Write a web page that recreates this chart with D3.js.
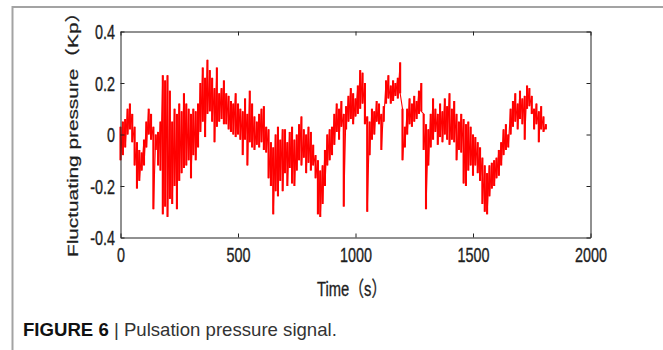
<!DOCTYPE html>
<html><head><meta charset="utf-8">
<script src="https://cdn.jsdelivr.net/npm/d3@7/dist/d3.min.js"></script>
<style>body{margin:0;background:#fff}svg{display:block}</style>
</head><body>
<svg id="c" width="663" height="350"></svg>
<script>
// sample times (s), 10-s bins
const sampleTimes = [0,10,20,30,40,50,60,70,80,90,100,110,120,130,140,150,160,170,180,190,200,210,220,230,240,250,260,270,280,290,300,310,320,330,340,350,360,370,380,390,400,410,420,430,440,450,460,470,480,490,500,510,520,530,540,550,560,570,580,590,600,610,620,630,640,650,660,670,680,690,700,710,720,730,740,750,760,770,780,790,800,810,820,830,840,850,860,870,880,890,900,910,920,930,940,950,960,970,980,990,1000,1010,1020,1030,1040,1050,1060,1070,1080,1090,1100,1110,1120,1130,1140,1150,1160,1170,1180,1190,1200,1210,1220,1230,1240,1250,1260,1270,1280,1290,1300,1310,1320,1330,1340,1350,1360,1370,1380,1390,1400,1410,1420,1430,1440,1450,1460,1470,1480,1490,1500,1510,1520,1530,1540,1550,1560,1570,1580,1590,1600,1610,1620,1630,1640,1650,1660,1670,1680,1690,1700,1710,1720,1730,1740,1750,1760,1770,1780,1790,1800,1810];
// upper envelope of fluctuating pressure in each bin (Kp)
const pressureHigh = [0.03,0.05,0.06,0.10,0.12,0.08,0.03,-0.03,-0.06,-0.07,-0.02,0.05,0.10,0.08,0.03,0.00,0.01,0.05,0.23,0.21,0.23,0.17,0.05,0.10,0.08,0.12,0.09,0.16,0.12,0.10,0.08,0.10,0.09,0.12,0.20,0.26,0.22,0.29,0.25,0.22,0.18,0.26,0.16,0.18,0.21,0.16,0.15,0.13,0.12,0.16,0.12,0.10,0.09,0.14,0.08,0.17,0.12,0.07,0.05,0.08,0.10,0.11,0.03,0.02,-0.03,-0.05,0.00,0.03,-0.02,0.02,0.02,-0.03,0.01,0.03,-0.02,0.00,0.04,0.07,0.02,0.00,0.03,0.01,-0.04,-0.08,-0.10,-0.14,-0.12,-0.06,0.00,0.02,0.03,0.08,0.12,0.10,0.13,0.08,0.11,0.15,0.18,0.16,0.14,0.19,0.25,0.24,0.20,0.07,0.05,0.10,0.09,0.13,0.12,0.08,0.11,0.21,0.23,0.19,0.21,0.20,0.22,0.28,0.10,0.03,0.10,0.14,0.12,0.15,0.13,0.17,0.20,0.08,0.04,0.02,0.08,0.14,0.10,0.08,0.12,0.09,0.14,0.11,0.16,0.10,0.13,0.08,0.05,0.08,0.06,0.04,0.05,0.03,0.00,-0.01,-0.03,-0.05,-0.09,-0.12,-0.15,-0.12,-0.11,-0.10,-0.09,-0.06,-0.03,0.02,0.04,0.00,0.10,0.13,0.16,0.12,0.17,0.14,0.15,0.19,0.18,0.15,0.10,0.12,0.09,0.11,0.07,0.04];
// lower envelope of fluctuating pressure in each bin (Kp)
const pressureLow = [-0.10,-0.08,-0.05,0.00,0.02,-0.03,-0.12,-0.21,-0.18,-0.14,-0.12,-0.05,0.00,-0.02,-0.29,-0.06,-0.12,-0.14,-0.31,-0.28,-0.32,-0.25,-0.27,-0.20,-0.29,-0.18,-0.15,-0.13,-0.12,-0.10,-0.17,-0.08,-0.10,-0.05,0.01,0.05,-0.01,0.08,0.09,0.05,-0.03,0.03,0.05,0.06,0.04,0.04,0.02,0.01,0.00,-0.01,0.00,-0.02,-0.08,-0.02,-0.12,-0.03,-0.05,-0.06,-0.04,-0.05,-0.03,-0.06,-0.07,-0.17,-0.20,-0.31,-0.22,-0.24,-0.18,-0.22,-0.15,-0.20,-0.13,-0.19,-0.20,-0.14,-0.10,-0.12,-0.09,-0.15,-0.11,-0.14,-0.12,-0.17,-0.31,-0.32,-0.27,-0.20,-0.12,-0.10,-0.08,-0.04,0.01,-0.02,0.03,-0.28,0.02,0.05,0.06,0.04,0.07,0.08,0.10,0.12,0.04,-0.30,-0.08,-0.02,0.00,0.05,0.04,-0.06,0.05,0.12,0.14,0.12,0.13,0.15,0.14,0.16,-0.10,-0.05,0.00,0.04,0.03,0.05,0.06,0.08,0.09,-0.06,-0.29,-0.12,-0.05,-0.02,0.01,-0.04,-0.01,-0.03,0.00,-0.02,-0.04,-0.02,-0.03,-0.10,-0.06,-0.07,-0.19,-0.20,-0.14,-0.12,-0.16,-0.12,-0.15,-0.18,-0.27,-0.30,-0.31,-0.24,-0.21,-0.20,-0.17,-0.16,-0.12,-0.08,-0.06,-0.05,0.00,0.03,0.05,0.02,0.06,0.04,-0.02,0.10,0.11,0.08,0.02,0.04,-0.03,0.02,0.01,0.02];
const xTickValues = [0,500,1000,1500,2000];
const xTickLabels = ["0","500","1000","1500","2000"];
const yTickValues = [-0.4,-0.2,0,0.2,0.4];
const yTickLabels = ["-0.4","-0.2","0","0.2","0.4"];
const xTitle = "Time（s）";
const yTitle = "Fluctuating pressure（Kp）";

const svg = d3.select("#c");
const SX = 0.72; // horizontal squeeze of the figure text
const FS = 20;
const fontFam = "'Liberation Sans', Arial, 'Noto Sans CJK SC', sans-serif";
const txtColor = "#1e1e1e";

// card border
svg.append("line").attr("x1",12.5).attr("y1",7).attr("x2",663).attr("y2",7).attr("stroke","#a3a3a3").attr("stroke-width",2);
svg.append("line").attr("x1",12.5).attr("y1",6).attr("x2",12.5).attr("y2",350).attr("stroke","#a3a3a3").attr("stroke-width",2);

const x = d3.scaleLinear().domain([0,2000]).range([120.5,590.5]);
const y = d3.scaleLinear().domain([-0.4,0.4]).range([237.5,31.5]);

const bins = sampleTimes.map((t,i)=>({t, hi: pressureHigh[i], lo: pressureLow[i]}));
// vertical strokes spanning each bin's envelope
svg.append("g").selectAll("line").data(bins).join("line")
  .attr("x1",d=>x(d.t)).attr("x2",d=>x(d.t))
  .attr("y1",d=>y(d.hi)).attr("y2",d=>y(d.lo))
  .attr("stroke","#ff0000").attr("stroke-width",2.1);
// zig-zag trace through the bins
const pts = [];
bins.forEach(b=>{ pts.push([b.t,b.hi]); pts.push([b.t,b.lo]); });
const line = d3.line().x(d=>x(d[0])).y(d=>y(d[1]));
svg.append("path").datum(pts).attr("d",line).attr("fill","none").attr("stroke","#ff0000").attr("stroke-width",1.1);

const axColor = "#222";
function styleAxis(g){ g.selectAll("path,line").attr("stroke",axColor).attr("stroke-width",1); }

const gB = svg.append("g").attr("transform","translate(0,237.5)")
  .call(d3.axisBottom(x).tickValues(xTickValues).tickSizeInner(-4).tickSizeOuter(0)
    .tickFormat((d,i)=>xTickLabels[i]));
const gT = svg.append("g").attr("transform","translate(0,31.5)")
  .call(d3.axisTop(x).tickValues(xTickValues).tickSizeInner(-4).tickSizeOuter(0).tickFormat(""));
const gL = svg.append("g").attr("transform","translate(120.5,0)")
  .call(d3.axisLeft(y).tickValues(yTickValues).tickSizeInner(-4).tickSizeOuter(0)
    .tickFormat((d,i)=>yTickLabels[i]));
const gR = svg.append("g").attr("transform","translate(590.5,0)")
  .call(d3.axisRight(y).tickValues(yTickValues).tickSizeInner(-4).tickSizeOuter(0).tickFormat(""));
[gB,gT,gL,gR].forEach(styleAxis);

function styleText(sel, size){
  sel.attr("fill",txtColor).attr("stroke",txtColor).attr("stroke-width",0.35)
    .attr("font-family",fontFam).attr("font-size",size||FS);
}
gB.selectAll("text").attr("y",24.5).attr("dy",0).attr("transform",`scale(${SX},1)`).call(styleText);
gL.selectAll("text").attr("x",-5.5/SX).attr("dy","0.36em").attr("transform",`scale(${SX},1)`).call(styleText);
[gT,gR].forEach(g=>g.selectAll("text").remove());

svg.append("text").text(xTitle).attr("transform",`translate(317,296) scale(${SX},1)`).call(styleText, 20.5);
svg.append("text").text(yTitle).attr("transform",`translate(78,257) scale(${SX},1) rotate(-90)`)
  .attr("text-anchor","start").call(styleText, 20.8);

// caption
const cap = svg.append("text").attr("x",23).attr("y",336).attr("font-family",fontFam).attr("font-size",18.6);
cap.append("tspan").text("FIGURE 6").attr("font-weight","bold").attr("fill","#111");
cap.append("tspan").text(" | Pulsation pressure signal.").attr("fill","#333");
</script>
</body></html>
